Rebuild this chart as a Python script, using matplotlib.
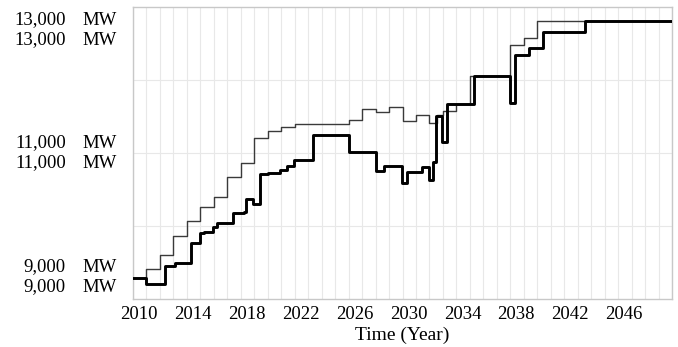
import matplotlib
matplotlib.use("Agg")
import matplotlib.pyplot as plt
import matplotlib.transforms as mtransforms
import numpy as np

plt.rcParams['font.family'] = ['Liberation Serif', 'DejaVu Serif']

# Capacity series (MW), piecewise constant: value holds from each start year
years_a = [2010, 2011, 2012, 2013, 2014, 2015, 2016, 2017, 2018, 2019, 2020,
           2021, 2022, 2026, 2027, 2028, 2029, 2030, 2031, 2032, 2032.55,
           2033, 2034, 2035, 2038, 2039, 2040]
mw_a = [9283, 9407, 9603, 9863, 10068, 10265, 10393, 10667, 10868, 11201, 11301,
        11352, 11397, 11452, 11599, 11562, 11635, 11438, 11515, 11406, 11520,
        11570, 11675, 12060, 12480, 12580, 12808]

years_b = [2010, 2011, 2012.36, 2013.1, 2014.34, 2014.96, 2015.26, 2015.95, 2016.26,
           2017.41, 2018.23, 2018.38, 2018.92, 2019.42, 2020.04, 2020.9, 2021.4,
           2021.95, 2023.38, 2026.0, 2028.0, 2028.6, 2029.95, 2030.33, 2031.44,
           2031.93, 2032.3, 2032.5, 2032.93, 2033.3, 2035.33, 2037.96, 2038.38,
           2039.37, 2040.44, 2043.58]
mw_b = [9283, 9205, 9457, 9489, 9771, 9908, 9922, 9982, 10037,
        10174, 10188, 10366, 10297, 10708, 10730, 10767, 10822,
        10904, 11247, 11018, 10758, 10826, 10585, 10744, 10812,
        10630, 10880, 11511, 11155, 11675, 12060, 11690, 12342,
        12434, 12655, 12808]

x_end = 2050
x_ticks = [2010, 2014, 2018, 2022, 2026, 2030, 2034, 2038, 2042, 2046]
y_label_values = [13000, 11000, 9000]
y_label_texts = ["13,000", "11,000", "9,000"]
unit = "MW"

W, H = 678, 347
fig = plt.figure(figsize=(W / 100, H / 100), dpi=100)
ax = fig.add_axes([133 / W, (H - 299) / H, (672 - 133) / W, (299 - 7) / H])

ax.set_xlim(2010, x_end)
ax.set_ylim(9000, 13000)

# grid: every year vertically, every 1000 MW horizontally
ax.set_xticks(np.arange(2010, x_end + 1, 1), minor=True)
ax.set_xticks(x_ticks)
ax.set_yticks([10000, 11000, 12000])
ax.set_yticklabels([])
ax.grid(True, which='both', axis='x', color='#e8e8e8', linewidth=0.8)
ax.grid(True, which='major', axis='y', color='#e8e8e8', linewidth=0.8)
ax.tick_params(which='both', length=0)
ax.tick_params(axis='x', labelsize=13.5, pad=5)
for lbl in ax.get_xticklabels():
    lbl.set_transform(lbl.get_transform() + mtransforms.ScaledTranslation(6 / 100, 0, fig.dpi_scale_trans))
for sp in ax.spines.values():
    sp.set_color('#c8c8c8')
    sp.set_linewidth(1.0)

ax.set_xlabel("Time (Year)", fontsize=14, labelpad=3)

def step_xy(t, v):
    return list(t) + [x_end], list(v) + [v[-1]]

xa, ya = step_xy(years_a, mw_a)
xb, yb = step_xy(years_b, mw_b)
ax.step(xa, ya, where='post', color='#3a3a3a', linewidth=1.0, zorder=3)
ax.step(xb, yb, where='post', color='#000000', linewidth=2.1, zorder=4)

# paired scale labels (one per series) on the left
pair_offsets = {13000: (-13, -33), 11000: (10, -10), 9000: (32, 12)}
for val, txt in zip(y_label_values, y_label_texts):
    for off in pair_offsets[val]:
        y_disp = ax.transData.transform((2010, val))[1] + off
        yf = y_disp / H
        fig.text(66 / W, yf, txt, ha='right', va='center', fontsize=13.5)
        fig.text(117 / W, yf, unit, ha='right', va='center', fontsize=13.5)

fig.savefig("out.png", dpi=100)
